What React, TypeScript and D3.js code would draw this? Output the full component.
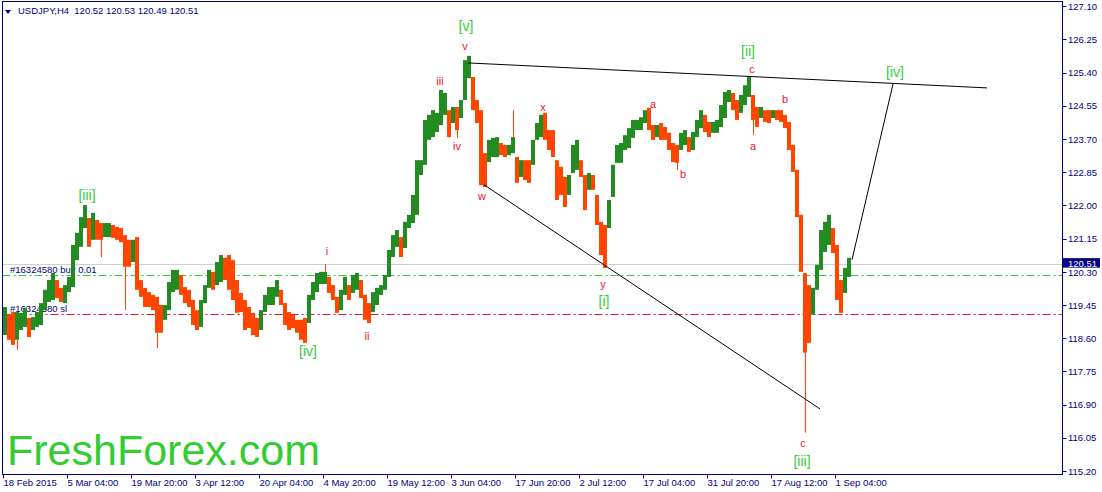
import * as d3 from "d3";

// H4 bars, sampled every 4 bars (16h): high / low of each sample body
const highs = [
  119.40, 119.20, 119.27, 119.27, 119.25, 119.38, 119.12, 119.14, 119.27, 119.50,
  119.84, 120.09, 120.27, 120.09, 119.89, 119.96, 120.17, 120.99, 121.30, 121.70,
  122.01, 121.68, 121.81, 121.63, 121.55, 121.55, 121.55, 121.50, 121.45, 121.42,
  121.24, 121.12, 121.12, 121.19, 120.09, 119.89, 119.78, 119.71, 119.66, 119.45,
  119.45, 120.04, 120.35, 120.35, 120.22, 119.91, 119.84, 119.58, 119.32, 119.58,
  119.96, 120.35, 120.30, 120.55, 120.73, 120.66, 120.73, 120.60, 120.09, 119.76,
  119.58, 119.40, 119.25, 119.12, 119.32, 119.71, 119.91, 119.91, 120.09, 119.84,
  119.50, 119.27, 119.20, 119.07, 119.07, 119.12, 119.71, 120.04, 120.27, 120.30,
  120.30, 120.17, 119.96, 119.66, 119.84, 120.17, 119.96, 120.22, 120.27, 120.09,
  119.71, 119.50, 119.78, 119.89, 119.96, 120.22, 120.86, 121.24, 121.37, 121.19,
  121.58, 121.76, 122.27, 123.16, 123.16, 124.19, 124.32, 124.44, 124.37, 124.96,
  124.88, 124.44, 124.52, 124.52, 124.70, 125.72, 125.83, 125.29, 124.70, 124.44,
  123.34, 123.68, 123.73, 123.75, 123.60, 123.55, 123.55, 123.75, 123.24, 123.16,
  123.16, 123.16, 123.68, 124.11, 124.32, 124.37, 123.93, 123.93, 123.16, 122.99,
  122.73, 122.78, 123.55, 123.68, 123.16, 122.78, 122.83, 122.78, 122.27, 121.58,
  121.50, 122.14, 123.04, 123.55, 123.60, 123.80, 123.98, 124.19, 124.19, 124.26,
  124.44, 124.50, 124.06, 124.06, 124.11, 124.01, 123.86, 123.60, 123.55, 123.86,
  123.93, 123.75, 123.88, 124.19, 124.44, 124.32, 124.14, 124.14, 124.19, 124.57,
  124.91, 124.96, 124.88, 124.70, 124.83, 125.08, 125.29, 124.83, 124.52, 124.52,
  124.44, 124.44, 124.44, 124.44, 124.44, 124.32, 124.14, 123.55, 122.91, 121.76,
  120.27, 119.96, 119.89, 120.48, 121.37, 121.58, 121.76, 121.42, 120.99, 120.09,
  120.40, 120.66,
];

const lows = [
  118.68, 118.56, 118.43, 118.56, 118.81, 118.89, 118.63, 118.81, 118.89, 118.94,
  119.32, 119.53, 119.58, 119.63, 119.53, 119.50, 119.78, 119.91, 120.60, 120.94,
  121.42, 120.94, 121.12, 121.12, 121.12, 121.19, 121.19, 121.17, 121.12, 121.06,
  120.43, 120.43, 120.55, 119.84, 119.66, 119.40, 119.40, 119.32, 118.74, 118.74,
  119.07, 119.32, 119.78, 119.84, 119.71, 119.50, 119.40, 118.94, 118.81, 118.89,
  119.50, 119.89, 119.84, 119.96, 120.04, 120.09, 119.84, 119.58, 119.25, 119.27,
  118.81, 118.86, 118.68, 118.63, 118.81, 119.27, 119.45, 119.45, 119.66, 119.45,
  118.94, 118.81, 118.86, 118.74, 118.56, 118.48, 118.99, 119.58, 119.78, 119.99,
  119.99, 119.76, 119.58, 119.25, 119.32, 119.71, 119.58, 119.76, 119.84, 119.63,
  119.07, 118.99, 119.27, 119.45, 119.71, 119.84, 120.17, 120.68, 120.94, 120.68,
  120.91, 121.42, 121.55, 121.76, 122.78, 123.04, 123.68, 123.75, 123.88, 124.06,
  124.32, 123.75, 124.11, 123.93, 124.24, 124.70, 125.26, 124.44, 124.11, 122.52,
  122.47, 123.11, 123.24, 123.24, 123.29, 123.24, 123.29, 123.34, 122.58, 122.73,
  122.65, 122.58, 123.04, 123.68, 123.75, 123.68, 123.42, 123.24, 122.14, 122.27,
  121.96, 122.27, 122.83, 122.91, 122.73, 121.88, 122.40, 122.40, 121.50, 120.73,
  120.40, 121.42, 122.22, 123.09, 123.09, 123.42, 123.47, 123.73, 123.93, 123.93,
  124.11, 123.93, 123.68, 123.75, 123.68, 123.68, 123.42, 123.11, 123.09, 123.42,
  123.55, 123.37, 123.42, 123.75, 123.98, 123.88, 123.75, 123.86, 123.86, 124.01,
  124.24, 124.65, 124.44, 124.19, 124.37, 124.57, 124.78, 124.19, 124.01, 124.24,
  124.14, 124.11, 124.24, 124.19, 124.14, 123.98, 123.42, 122.86, 121.70, 120.30,
  118.23, 118.48, 119.20, 119.84, 120.35, 120.81, 120.99, 120.78, 119.58, 119.25,
  119.76, 120.17,
];

// single-bar wicks poking out of a sample: [sample, price]
const spikes: [number, number][] = [
  [3, 118.3], [24, 120.68], [30, 119.32], [38, 118.35], [80, 120.5],
  [113, 123.73], [127, 124.44], [168, 122.91], [187, 123.8], [200, 116.18],
];

const barsPerSample = 4;
const barsPerTick = 64;

const timeLabels = [
  "18 Feb 2015", "5 Mar 04:00", "19 Mar 20:00", "3 Apr 12:00", "20 Apr 04:00",
  "4 May 20:00", "19 May 12:00", "3 Jun 04:00", "17 Jun 20:00", "2 Jul 12:00",
  "17 Jul 04:00", "31 Jul 20:00", "17 Aug 12:00", "1 Sep 04:00",
];

const priceTicks = [
  127.1, 126.25, 125.4, 124.55, 123.7, 122.85, 122.0, 121.15, 120.3, 119.45,
  118.6, 117.75, 116.9, 116.05, 115.2,
];

const lastPrice = 120.51;
const buyPrice = 120.22;
const slPrice = 119.22;
const ticket = "#16324580";

// trend lines: [bar, price] -> [bar, price]
const trendLines: [number, number, number, number][] = [
  [465, 125.65, 984, 125.01],
  [481, 122.53, 817, 116.79],
  [849, 120.61, 890, 125.11],
];

// wave counts: text, bar, price, major?
const waveLabels: [string, number, number, boolean][] = [
  ["[iii]", 84, 122.27, true],
  ["[iv]", 305, 118.27, true],
  ["[v]", 463, 126.59, true],
  ["[i]", 601, 119.55, true],
  ["[ii]", 745, 125.95, true],
  ["[iii]", 799, 115.46, true],
  ["[iv]", 892, 125.42, true],
  ["i", 324, 120.83, false],
  ["ii", 364, 118.66, false],
  ["iii", 437, 125.19, false],
  ["iv", 454, 123.52, false],
  ["v", 462, 126.08, false],
  ["w", 479, 122.24, false],
  ["x", 540, 124.52, false],
  ["y", 600, 119.99, false],
  ["a", 650, 124.6, false],
  ["b", 680, 122.8, false],
  ["c", 749, 125.49, false],
  ["a", 750, 123.52, false],
  ["b", 782, 124.73, false],
  ["c", 800, 115.92, false],
];

const NAVY = "#000080";
const UP = "#228B22";
const DOWN = "#FF4500";
const FONT = "'Liberation Sans', Arial, sans-serif";

const left = 2.5;
const right = 1062.5;
const top = 1.5;
const bottom = 474.5;

export default function App() {
  const x = d3.scaleLinear().domain([0, 1056]).range([3, 1059]);
  const y = d3.scaleLinear().domain([115.2, 127.1]).range([471, 6.3]);
  const mids = highs.map((h, i) => (h + lows[i]) / 2);
  const colorOf = (i: number) => (i === 0 || mids[i] >= mids[i - 1] ? UP : DOWN);

  return (
    <svg
      width={1102}
      height={492}
      style={{ position: "absolute", left: 0, top: 0, background: "#fff" }}
      fontFamily={FONT}
    >
      <defs>
        <clipPath id="plot">
          <rect x={left} y={top} width={right - left} height={bottom - top} />
        </clipPath>
      </defs>

      <g clipPath="url(#plot)">
        <line x1={left} x2={right} y1={Math.round(y(lastPrice)) + 0.5} y2={Math.round(y(lastPrice)) + 0.5} stroke="#d0d0d0" />
        <line x1={left} x2={right} y1={Math.round(y(buyPrice)) + 0.5} y2={Math.round(y(buyPrice)) + 0.5}
          stroke="#32cd32" strokeDasharray="8,3,2,3" />
        <line x1={left} x2={right} y1={Math.round(y(slPrice)) + 0.5} y2={Math.round(y(slPrice)) + 0.5}
          stroke="#e8103c" strokeDasharray="8,3,2,3" />

        <text x={10} y={y(buyPrice) - 2} fontSize={9.5} fill={NAVY}>
          {`${ticket} buy 0.01`}
        </text>
        <text x={10} y={y(slPrice) - 2} fontSize={9.5} fill={NAVY}>
          {`${ticket} sl`}
        </text>

        {highs.map((h, i) => {
          const x0 = x(i * barsPerSample);
          return (
            <rect
              key={i}
              x={x0}
              y={y(h)}
              width={x((i + 1) * barsPerSample) - x0}
              height={Math.max(1, y(lows[i]) - y(h))}
              fill={colorOf(i)}
            />
          );
        })}

        {spikes.map(([s, p]) => {
          const sx = Math.round(x(s * barsPerSample + 2)) + 0.5;
          const edge = p < lows[s] ? lows[s] : highs[s];
          return (
            <line key={s} x1={sx} x2={sx} y1={y(edge)} y2={y(p)} stroke={DOWN} strokeWidth={1} />
          );
        })}

        {trendLines.map(([b0, p0, b1, p1], i) => (
          <line key={i} x1={x(b0)} y1={y(p0)} x2={x(b1)} y2={y(p1)} stroke="#000" strokeWidth={1} />
        ))}

        {waveLabels.map(([t, b, p, major], i) => (
          <text
            key={i}
            x={x(b)}
            y={y(p)}
            textAnchor="middle"
            dominantBaseline="central"
            fontSize={major ? 14 : 11}
            fill={major ? "#33cc33" : "#f0102a"}
          >
            {t}
          </text>
        ))}

        <text x={7} y={465} fontSize={43} fill="#33cc33">
          FreshForex.com
        </text>

        <path d="M5,10 L11,10 L8,14 Z" fill={NAVY} />
        <text x={18} y={14} fontSize={9.5} fill={NAVY} style={{ whiteSpace: "pre" }}>
          {"USDJPY,H4  120.52 120.53 120.49 120.51"}
        </text>
      </g>

      <rect x={left} y={top} width={right - left} height={bottom - top} fill="none" stroke={NAVY} />

      {priceTicks.map((p) => (
        <g key={p}>
          <line x1={right} x2={right + 4} y1={Math.round(y(p)) + 0.5} y2={Math.round(y(p)) + 0.5} stroke={NAVY} />
          <text x={1068} y={y(p) + (p === 120.3 ? 4.5 : 3.5)} fontSize={9.5} fill={NAVY}>
            {p.toFixed(2)}
          </text>
        </g>
      ))}

      <rect x={1063} y={y(lastPrice) - 5.5} width={37} height={9.5} fill={NAVY} />
      <text x={1068} y={y(lastPrice) + 3} fontSize={9.5} fill="#fff">
        {lastPrice.toFixed(2)}
      </text>

      {timeLabels.map((t, i) => {
        const tx = Math.round(x(i * barsPerTick)) + 0.5;
        return (
          <g key={t}>
            <line x1={tx} x2={tx} y1={bottom} y2={bottom + 4} stroke={NAVY} />
            <text x={tx} y={486} fontSize={9.5} fill={NAVY}>
              {t}
            </text>
          </g>
        );
      })}
    </svg>
  );
}
